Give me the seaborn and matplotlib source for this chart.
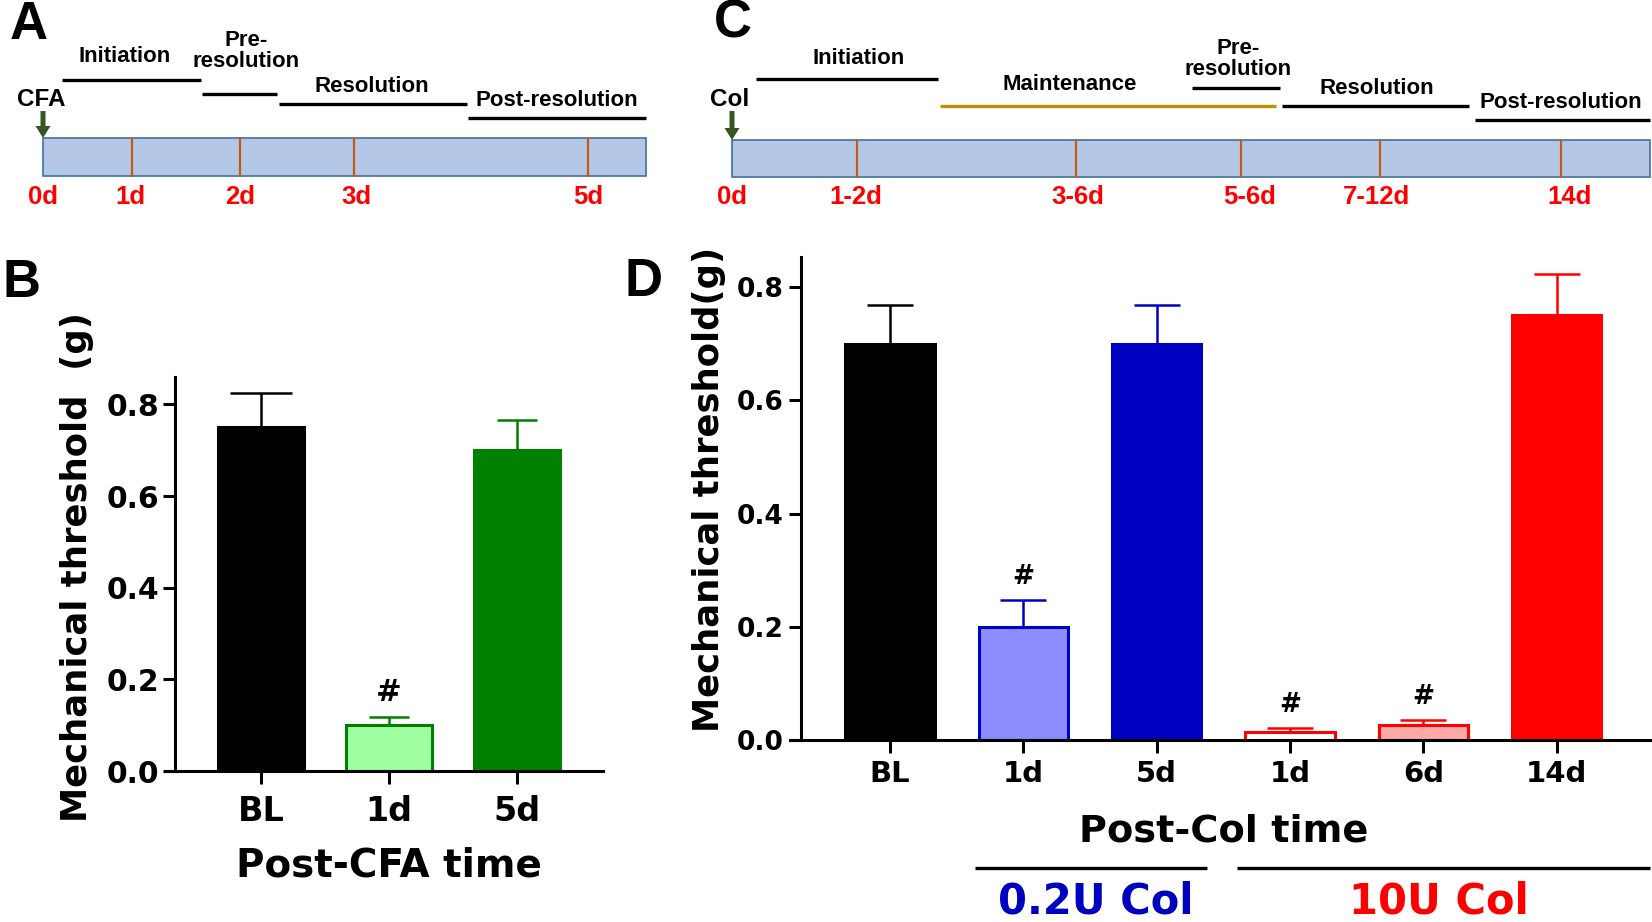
"""
plot.py

Timelines (A, C) and mechanical threshold bar charts (B, D)
"""

import matplotlib
matplotlib.use("Agg")
import matplotlib.pyplot as plt
from matplotlib import transforms
from matplotlib.patches import Rectangle, FancyArrow
import seaborn as sns

W, H = 1652, 922

# ---- panel B data (CFA) ----
cfa_groups = ["BL", "1d", "5d"]
cfa_mean = [0.75, 0.10, 0.70]
cfa_sem = [0.075, 0.018, 0.066]
cfa_sig = ["", "#", ""]

# ---- panel D data (collagenase) ----
col_groups = ["BL", "0.2U 1d", "0.2U 5d", "10U 1d", "10U 6d", "10U 14d"]
col_ticklabels = ["BL", "1d", "5d", "1d", "6d", "14d"]
col_mean = [0.70, 0.20, 0.70, 0.015, 0.027, 0.75]
col_sem = [0.068, 0.048, 0.068, 0.006, 0.008, 0.073]
col_sig = ["", "#", "", "#", "#", ""]

y_ticks = [0.0, 0.2, 0.4, 0.6, 0.8]

# ---- timeline text ----
cfa_days = ["0d", "1d", "2d", "3d", "5d"]
cfa_phases = ["Initiation", "Pre-\nresolution", "Resolution", "Post-resolution"]
col_days = ["0d", "1-2d", "3-6d", "5-6d", "7-12d", "14d"]
col_phases = ["Initiation", "Maintenance", "Pre-\nresolution", "Resolution", "Post-resolution"]

# ---- styles ----
cfa_fill = ["#000000", "#a0ffa0", "#008000"]
cfa_edge = ["#000000", "#008000", "#008000"]
cfa_caps = [22, 14.5, 14.5]
col_fill = ["#000000", "#8c8cff", "#0000c0", "#ffffff", "#ffa8a8", "#ff0000"]
col_edge = ["#000000", "#0000c0", "#0000c0", "#ff0000", "#ff0000", "#ff0000"]
col_caps = [16.5] * 6

TL_FONT = ["Liberation Sans", "DejaVu Sans"]

# ---- schematic layout, in figure pixels ----
cfa_bar = (43, 646, 138, 176)
cfa_tick_x = [132, 240, 354, 588]
cfa_day_x = [43, 130, 240, 356, 588]
cfa_lines = [(62, 201, 80), (202, 277, 94), (279, 467, 104), (468, 646, 118)]
cfa_text_xy = [(125, 56), (246, 51), (372, 87), (557, 101)]
cfa_line_col = ["black"] * 4

col_bar = (732, 1650, 140, 177)
col_tick_x = [857, 1076, 1241, 1380, 1561]
col_day_x = [732, 856, 1078, 1250, 1377, 1570]
col_lines = [(756, 938, 79), (940, 1276, 106), (1192, 1280, 88), (1282, 1469, 106), (1475, 1650, 120)]
col_text_xy = [(859, 58), (1070, 85), (1238, 59), (1377, 88), (1561, 103)]
col_line_col = ["black", "#bf9000", "black", "black", "black"]


def timeline(ov, bar, tick_x, days, day_x, phases, lines, text_xy, line_col, agent):
    x0, x1, y0, y1 = bar
    ov.add_patch(Rectangle((x0, y0), x1 - x0, y1 - y0, fc="#b4c7e7", ec="#41719c", lw=1.2))
    for tx in tick_x:
        ov.plot([tx, tx], [y0, y1], color="#c55a11", lw=1.6)
    for d, dx in zip(days, day_x):
        ov.text(dx, 197, d, color="#ff0000", fontsize=18.5, fontweight="bold",
                ha="center", va="center", family=TL_FONT)
    for name, (a, b, ly), (tx, ty), c in zip(phases, lines, text_xy, line_col):
        ov.plot([a, b], [ly, ly], color=c, lw=2.4, solid_capstyle="butt")
        ov.text(tx, ty, name, fontsize=16, fontweight="bold", ha="center", va="center",
                linespacing=1.05, family=TL_FONT)
    ov.add_patch(FancyArrow(x0, 111, 0, y0 - 111, width=5, head_width=15, head_length=12,
                            length_includes_head=True, color="#375623", lw=0))
    ov.text(x0 - 2, 99, agent, fontsize=17.5, fontweight="bold", ha="center", va="center",
            family=TL_FONT)


def bar_panel(ax, groups, ticklabels, means, sems, sig, fills, edges, caps,
              xlim, ylim, spine_x, xt_fs, yt_fs, hash_fs, xpad, ypad):
    sns.barplot(x=groups, y=means, hue=groups, order=groups, hue_order=groups,
                palette=fills, saturation=1, width=0.67, errorbar=None,
                legend=False, ax=ax)
    for cont, ec in zip(ax.containers, edges):
        for p in cont:
            p.set_edgecolor(ec)
            p.set_linewidth(2.2)
    for i, (m, s, ec, cs, g) in enumerate(zip(means, sems, edges, caps, sig)):
        ax.vlines(i, m, m + s, color=ec, lw=1.8, zorder=3)
        ax.plot([i], [m + s], marker="_", markersize=2 * cs, mew=1.8, color=ec, zorder=3)
        if g:
            ax.annotate(g, (i, m + s), xytext=(0, 7), textcoords="offset points",
                        ha="center", va="bottom", fontsize=hash_fs, fontweight="bold")
    ax.set_xlim(*xlim)
    ax.set_ylim(*ylim)
    ax.set_yticks(y_ticks)
    ax.set_yticklabels([f"{t:.1f}" for t in y_ticks])
    ax.set_xticks(range(len(groups)))
    ax.set_xticklabels(ticklabels)
    ax.set_xlabel("")
    ax.set_ylabel("")
    sns.despine(ax=ax)
    ax.spines["left"].set_position(("data", spine_x))
    for sp in ("left", "bottom"):
        ax.spines[sp].set_linewidth(2.2)
        ax.spines[sp].set_color("black")
    ax.tick_params(direction="out", length=9, width=2.2, color="black", labelcolor="black")
    ax.tick_params(axis="x", labelsize=xt_fs, pad=xpad)
    ax.tick_params(axis="y", labelsize=yt_fs, pad=ypad)
    for lab in ax.get_xticklabels() + ax.get_yticklabels():
        lab.set_fontweight("bold")


def fx(px):
    return px / W


def fy(py):
    return 1 - py / H


def main():
    sns.set_style("ticks")
    plt.rcParams["font.family"] = ["DejaVu Sans"]
    plt.rcParams["font.weight"] = "bold"
    plt.rcParams["text.color"] = "black"
    plt.rcParams["axes.labelcolor"] = "black"
    plt.rcParams["axes.edgecolor"] = "black"
    plt.rcParams["xtick.color"] = "black"
    plt.rcParams["ytick.color"] = "black"

    fig = plt.figure(figsize=(W / 100, H / 100), dpi=100)
    fig.patch.set_facecolor("white")

    # overlay in pixel units for the schematics
    ov = fig.add_axes([0, 0, 1, 1])
    ov.set_xlim(0, W)
    ov.set_ylim(H, 0)
    ov.axis("off")
    timeline(ov, cfa_bar, cfa_tick_x, cfa_days, cfa_day_x, cfa_phases,
             cfa_lines, cfa_text_xy, cfa_line_col, "CFA")
    timeline(ov, col_bar, col_tick_x, col_days, col_day_x, col_phases,
             col_lines, col_text_xy, col_line_col, "Col")

    # panel B
    axb = fig.add_axes([fx(165), fy(771), fx(438), 394 / H])
    bar_panel(axb, cfa_groups, cfa_groups, cfa_mean, cfa_sem, cfa_sig, cfa_fill, cfa_edge,
              cfa_caps, (-0.75, 2.67), (0, 0.86), -0.672, 24, 21.5, 22, 8, 2.5)
    blend_b = transforms.blended_transform_factory(axb.transData, axb.transAxes)
    axb.text(1.0, -0.241, "Post-CFA time", transform=blend_b, ha="center", va="center",
             fontsize=28, fontweight="bold")
    fig.text(fx(77), fy(567), "Mechanical threshold  (g)", rotation=90, ha="center",
             va="center", fontsize=25.5, fontweight="bold")

    # panel D
    axd = fig.add_axes([fx(790), fy(740), fx(860), 483 / H])
    bar_panel(axd, col_groups, col_ticklabels, col_mean, col_sem, col_sig, col_fill, col_edge,
              col_caps, (-0.75, 5.70), (0, 0.853), -0.668, 21, 19, 19, 5.5, 3.5)
    blend_d = transforms.blended_transform_factory(axd.transData, axd.transAxes)
    axd.text(2.5, -0.19, "Post-Col time", transform=blend_d, ha="center", va="center",
             fontsize=27.5, fontweight="bold")
    axd.plot([0.64, 2.38], [-0.265, -0.265], transform=blend_d, color="black", lw=2.4,
             clip_on=False, solid_capstyle="butt")
    axd.plot([2.60, 5.70], [-0.265, -0.265], transform=blend_d, color="black", lw=2.4,
             clip_on=False, solid_capstyle="butt")
    axd.text(1.54, -0.335, "0.2U Col", transform=blend_d, ha="center", va="center",
             fontsize=30, fontweight="bold", color="#0000c0")
    axd.text(4.12, -0.335, "10U Col", transform=blend_d, ha="center", va="center",
             fontsize=30, fontweight="bold", color="#ff0000")
    fig.text(fx(709), fy(489), "Mechanical threshold(g)", rotation=90, ha="center",
             va="center", fontsize=25.5, fontweight="bold")

    # panel letters
    for letter, (px, py) in zip("ABCD", [(29, 25), (21, 283), (733, 24), (644, 282)]):
        fig.text(fx(px), fy(py), letter, ha="center", va="center", fontsize=38,
                 fontweight="bold", family=TL_FONT)

    fig.savefig("out.png", dpi=100, facecolor="white")
    plt.close(fig)


if __name__ == "__main__":
    main()
